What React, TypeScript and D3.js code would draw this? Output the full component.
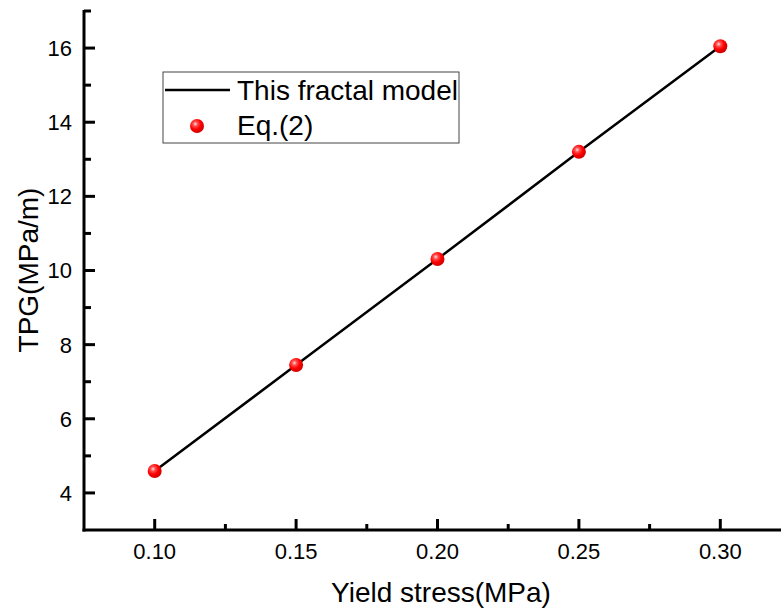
import React from "react";
import * as d3 from "d3";

const yieldStress = [0.1, 0.15, 0.2, 0.25, 0.3];
const tpgModel = [4.59, 7.45, 10.31, 13.2, 16.05];
const tpgEq2 = [4.59, 7.45, 10.31, 13.2, 16.05];
const xTicks = [0.1, 0.15, 0.2, 0.25, 0.3];
const xMinorTicks = [0.125, 0.175, 0.225, 0.275];
const yTicks = [4, 6, 8, 10, 12, 14, 16];
const yMinorTicks = [5, 7, 9, 11, 13, 15, 17];
const seriesNames = ["This fractal model", "Eq.(2)"];

const W = 781;
const H = 610;
const left = 84;
const top = 11;
const bottom = 530;

export default function App() {
  const x = d3.scaleLinear().domain([0.075, 0.325]).range([left, left + 707]);
  const y = d3.scaleLinear().domain([3, 17]).range([bottom, top]);
  const line = d3
    .line<number>()
    .x((_, i) => x(yieldStress[i]))
    .y((d) => y(d));
  const font = "'Liberation Sans', Arial, sans-serif";
  return (
    <svg
      width={W}
      height={H}
      style={{ position: "absolute", left: 0, top: 0, background: "#fff" }}
      fontFamily={font}
    >
      <defs>
        <radialGradient id="ball" cx="0.38" cy="0.35" r="0.65">
          <stop offset="0" stopColor="#ffe0e0" />
          <stop offset="0.25" stopColor="#ff5050" />
          <stop offset="0.6" stopColor="#ff0000" />
          <stop offset="1" stopColor="#d00000" />
        </radialGradient>
      </defs>
      {/* model line */}
      <path d={line(tpgModel) || ""} fill="none" stroke="#000" strokeWidth={2.5} />
      {/* Eq.(2) points */}
      {tpgEq2.map((v, i) => (
        <circle key={i} cx={x(yieldStress[i])} cy={y(v)} r={7} fill="url(#ball)" />
      ))}
      {/* axes */}
      <line x1={left} y1={top - 1} x2={left} y2={bottom + 1.5} stroke="#000" strokeWidth={3} />
      <line x1={left - 1.5} y1={bottom} x2={W} y2={bottom} stroke="#000" strokeWidth={3} />
      {yTicks.map((t) => (
        <g key={"y" + t}>
          <line x1={left} x2={left + 11} y1={y(t)} y2={y(t)} stroke="#000" strokeWidth={3} />
          <text x={left - 12} y={y(t)} dy="0.36em" textAnchor="end" fontSize={22}>
            {t}
          </text>
        </g>
      ))}
      {yMinorTicks.map((t) => (
        <line key={"ym" + t} x1={left} x2={left + 7} y1={y(t)} y2={y(t)} stroke="#000" strokeWidth={3} />
      ))}
      {xTicks.map((t) => (
        <g key={"x" + t}>
          <line x1={x(t)} x2={x(t)} y1={bottom} y2={bottom - 11} stroke="#000" strokeWidth={3} />
          <text x={x(t)} y={559} textAnchor="middle" fontSize={22}>
            {d3.format(".2f")(t)}
          </text>
        </g>
      ))}
      {xMinorTicks.map((t) => (
        <line key={"xm" + t} x1={x(t)} x2={x(t)} y1={bottom} y2={bottom - 6} stroke="#000" strokeWidth={3} />
      ))}
      {/* axis titles */}
      <text x={441} y={602} textAnchor="middle" fontSize={28}>
        Yield stress(MPa)
      </text>
      <text transform={`translate(38,270) rotate(-90)`} textAnchor="middle" fontSize={28}>
        TPG(MPa/m)
      </text>
      {/* legend */}
      <rect x={163} y={72} width={296} height={71} fill="#fff" stroke="#444" strokeWidth={1} />
      <line x1={165} x2={230} y1={90} y2={90} stroke="#000" strokeWidth={2.5} />
      <text x={237} y={100} fontSize={28}>
        {seriesNames[0]}
      </text>
      <circle cx={197} cy={126} r={7} fill="url(#ball)" />
      <text x={237} y={135} fontSize={28}>
        {seriesNames[1]}
      </text>
    </svg>
  );
}
